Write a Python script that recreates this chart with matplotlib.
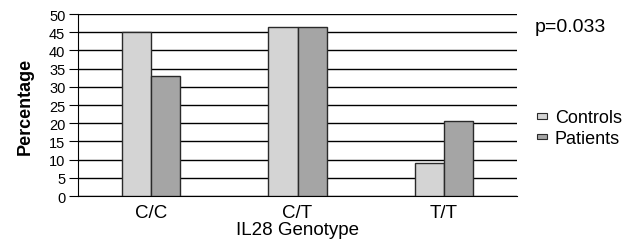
import matplotlib
matplotlib.use("Agg")
import matplotlib.pyplot as plt
import numpy as np

plt.rcParams['font.family'] = ['Liberation Sans', 'DejaVu Sans']

genotypes = ["C/C", "C/T", "T/T"]
controls = [45, 46.4, 9]
patients = [33, 46.4, 20.5]

fig = plt.figure(figsize=(6.33, 2.51), dpi=100)
ax = fig.add_axes([0.123, 0.215, 0.694, 0.725])

x = np.arange(len(genotypes))
w = 0.2
ax.bar(x - w / 2, controls, w, color="#d4d4d4", edgecolor="#2a2a2a", linewidth=1, label="Controls", zorder=3)
ax.bar(x + w / 2, patients, w, color="#a5a5a5", edgecolor="#2a2a2a", linewidth=1, label="Patients", zorder=3)

ax.set_xlim(-0.5, 2.5)
ax.set_ylim(0, 50)
ax.set_yticks(range(0, 51, 5))
ax.yaxis.grid(True, color="black", linewidth=1, zorder=0)
ax.set_axisbelow(True)
for s in ["top", "right"]:
    ax.spines[s].set_visible(False)
ax.tick_params(axis="y", labelsize=10.5, length=6.5, pad=2.5)
ax.tick_params(axis="x", labelsize=13.5, length=0, pad=5.4)
ax.set_xticks(x)
ax.set_xticklabels(genotypes)
ax.set_ylabel("Percentage", fontsize=13, fontweight="bold", labelpad=11)
ax.set_xlabel("IL28 Genotype", fontsize=13.5, labelpad=0)

fig.text(0.845, 0.892, "p=0.033", fontsize=14, va="center")
leg = ax.legend(loc="center left", bbox_to_anchor=(0.848, 0.486), bbox_transform=fig.transFigure,
                frameon=False, fontsize=13, borderpad=0, borderaxespad=0,
                handlelength=0.55, handleheight=0.7, handletextpad=0.45, labelspacing=0.2)
# shrink the legend boxes to flat little rectangles
for p in leg.get_patches():
    p.set_height(p.get_height() * 0.45)
    p.set_y(p.get_y() + 2.5)
    p.set_linewidth(0.8)

fig.savefig("out.png", dpi=100)
